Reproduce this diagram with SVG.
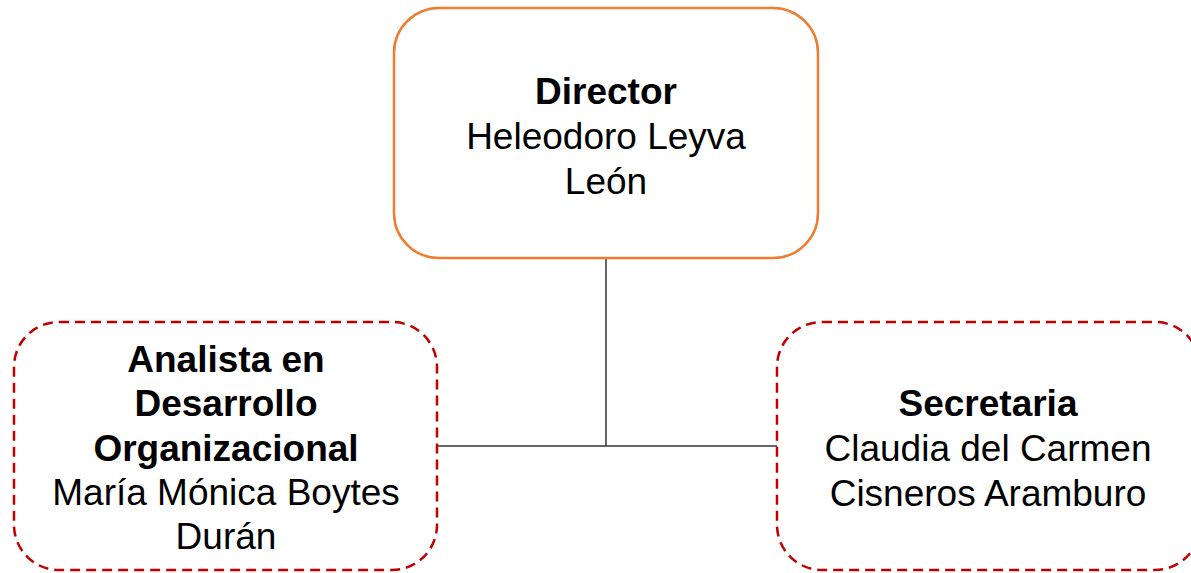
<svg xmlns="http://www.w3.org/2000/svg" width="1191" height="573" viewBox="0 0 1191 573">
<style>
.t{font-family:"Liberation Sans",Arial,sans-serif;font-size:37px;fill:#000;text-anchor:middle}
.b{font-weight:bold}
.dir{fill:#fff;stroke:#ED7D31;stroke-width:2.5}
.sub{fill:#fff;stroke:#C00000;stroke-width:2.5;stroke-dasharray:10 6}
.c{stroke:#333;stroke-width:1.5;fill:none}
</style>
<rect width="1191" height="573" fill="#fff"/>
<g id="connectors">
<line class="c" x1="606" y1="258" x2="606" y2="446"/>
<line class="c" x1="437" y1="446" x2="777" y2="446"/>
</g>
<g id="director">
<rect class="dir" x="394" y="8" width="424" height="250" rx="45" ry="45"/>
<text class="t b" x="606" y="104">Director</text>
<text class="t" x="606" y="149">Heleodoro Leyva</text>
<text class="t" x="606" y="194">León</text>
</g>
<g id="analista">
<rect class="sub" x="14" y="322" width="423" height="248" rx="45" ry="45"/>
<text class="t b" x="226" y="372">Analista en</text>
<text class="t b" x="226" y="416">Desarrollo</text>
<text class="t b" x="226" y="461">Organizacional</text>
<text class="t" x="226" y="505">María Mónica Boytes</text>
<text class="t" x="226" y="549">Durán</text>
</g>
<g id="secretaria">
<rect class="sub" x="777" y="322" width="423" height="248" rx="45" ry="45"/>
<text class="t b" x="988" y="416">Secretaria</text>
<text class="t" x="988" y="461">Claudia del Carmen</text>
<text class="t" x="988" y="506">Cisneros Aramburo</text>
</g>
</svg>
